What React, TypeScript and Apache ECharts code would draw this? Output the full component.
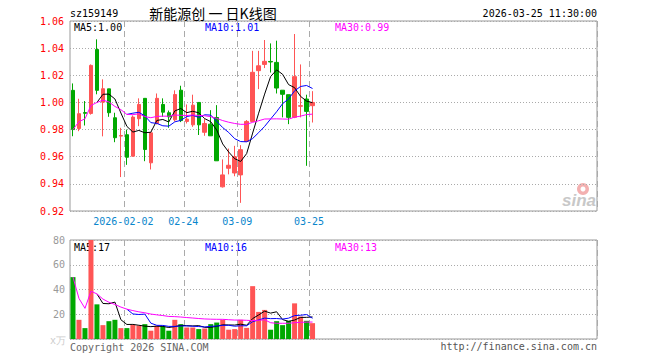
import React, { useEffect, useRef } from 'react';
import * as echarts from 'echarts';

// ---- data ----
const dates = [
  '2026-01-20', '2026-01-21', '2026-01-22', '2026-01-23', '2026-01-26', '2026-01-27', '2026-01-28', '2026-01-29', '2026-01-30',
  '2026-02-02', '2026-02-03', '2026-02-04', '2026-02-05', '2026-02-06', '2026-02-09', '2026-02-10', '2026-02-11', '2026-02-12', '2026-02-13',
  '2026-02-24', '2026-02-25', '2026-02-26', '2026-02-27', '2026-03-02', '2026-03-03', '2026-03-04', '2026-03-05', '2026-03-06',
  '2026-03-09', '2026-03-10', '2026-03-11', '2026-03-12', '2026-03-13', '2026-03-16', '2026-03-17', '2026-03-18', '2026-03-19', '2026-03-20',
  '2026-03-23', '2026-03-24', '2026-03-25',
];
const opens = [
  1.0089, 0.9808, 0.9925, 0.9919, 1.039, 1.0002, 1.01, 0.9887, 0.9752,
  0.9762, 0.9604, 0.988, 1.003, 0.9555, 0.9845, 0.9985, 0.9924, 0.9872, 1.009,
  0.986, 0.9835, 1.0, 0.978, 0.984, 0.9889, 0.9378, 0.9515, 0.948,
  0.9466, 0.9712, 0.986, 1.0234, 1.028, 1.0302, 1.0295, 1.009, 1.0057, 0.989,
  0.9972, 1.0025, 0.9976,
];
const closes = [
  0.98, 0.9917, 0.992, 1.0273, 1.0089, 1.0101, 0.9924, 0.974, 0.9756,
  0.9596, 0.9892, 0.9985, 0.9653, 0.9776, 1.003, 0.9928, 0.9894, 1.0058, 0.9866,
  0.9877, 0.998, 0.9835, 0.9845, 0.9754, 0.957, 0.9466, 0.9537, 0.96,
  0.9652, 0.986, 1.0222, 1.027, 1.0303, 1.0298, 1.0106, 1.006, 0.989, 1.019,
  0.9976, 0.9934, 1.0,
];
const lows = [
  0.9751, 0.9788, 0.983, 0.991, 1.006, 0.975, 0.9894, 0.9707, 0.945,
  0.954, 0.96, 0.9825, 0.9567, 0.9506, 0.9838, 0.9894, 0.9813, 0.986, 0.9855,
  0.9845, 0.982, 0.976, 0.9754, 0.9754, 0.957, 0.9373, 0.947, 0.9456,
  0.926, 0.9712, 0.986, 1.0098, 1.0253, 1.022, 1.0066, 0.989, 0.984, 0.9884,
  0.989, 0.9533, 0.9852,
];
const highs = [
  1.014, 1.0027, 1.001, 1.028, 1.0465, 1.017, 1.01, 0.9924, 0.9813,
  0.98, 0.9904, 1.003, 1.003, 0.978, 1.0066, 1.003, 0.994, 1.0089, 1.0123,
  0.9985, 1.0057, 1.0, 0.9877, 0.9943, 0.998, 0.958, 0.966, 0.968,
  0.9685, 0.987, 1.038, 1.038, 1.046, 1.0435, 1.0455, 1.009, 1.0057, 1.0504,
  1.028, 1.0057, 1.0083,
];
const volumes = [
  50, 15.5, 8.8, 80, 28, 11.2, 14.4, 15.5, 8.8,
  8.8, 11.5, 10.9, 12, 6.7, 10.7, 10.4, 6.7, 15.5, 12,
  9.3, 9.3, 8, 8.5, 12, 13.3, 15.5, 7.5, 8,
  15.5, 9, 42.7, 21.9, 23.5, 7.5, 14.4, 11.2, 14.7, 28.8,
  18.1, 14.7, 12.8,
];
const tickDates = ['2026-02-02', '2026-02-24', '2026-03-09', '2026-03-25'];
const tickLabels = ['2026-02-02', '02-24', '03-09', '03-25'];
const headerCode = 'sz159149';
const headerTitle = '新能源创 一 日K线图';
const headerTime = '2026-03-25 11:30:00';
const priceMaTexts = ['MA5:1.00', 'MA10:1.01', 'MA30:0.99'];
const volMaTexts = ['MA5:17', 'MA10:16', 'MA30:13'];

const TOTAL_SLOTS = 88;
const RED = '#ff5555';
const GREEN = '#00a800';
const MONO = 'DejaVu Sans Mono';

// moving average as the source chart draws it (MA30 grows from the first day)
function movingAvg(vals: number[], n: number, expanding: boolean) {
  return vals.map((_, i) => {
    if (i < n - 1 && !expanding) return '-';
    const start = Math.max(0, i - n + 1);
    const seg = vals.slice(start, i + 1);
    return seg.reduce((a, b) => a + b, 0) / seg.length;
  });
}

export default function App() {
  const ref = useRef<HTMLDivElement>(null);
  useEffect(() => {
    document.body.style.margin = '0';
    if (!ref.current) return;
    const chart = echarts.init(ref.current, undefined, { renderer: 'svg' });

    const categories = dates.concat(
      Array.from({ length: TOTAL_SLOTS - dates.length }, (_, k) => '_pad' + k)
    );
    const isTick = (_i: number, v: string) => tickDates.indexOf(v) >= 0;

    const signs = closes.map((c, i) => {
      if (c > opens[i]) return 1;
      if (c < opens[i]) return -1;
      return i > 0 && c >= closes[i - 1] ? 1 : -1;
    });

    const candleData = dates.map((_, i) => [opens[i], closes[i], lows[i], highs[i]]);
    const volData = volumes.map((v, i) => ({
      value: v,
      itemStyle: { color: signs[i] > 0 ? RED : GREEN },
    }));

    const maLine = (name: string, data: any[], color: string, xi: number, yi: number) => ({
      name,
      type: 'line',
      xAxisIndex: xi,
      yAxisIndex: yi,
      data,
      symbol: 'none',
      smooth: false,
      lineStyle: { color, width: 1 },
      z: 3,
    });

    const dashed = { color: '#aaaaaa', width: 1, type: [6, 4] };
    const dotted = { color: '#aaaaaa', width: 1, type: [1, 2] };

    const txt = (text: string, x: number, y: number, fill: string, align = 'left', font = `10px ${MONO}`) => ({
      type: 'text',
      x,
      y,
      z: 0,
      style: {
        text,
        fill,
        font,
        align,
        verticalAlign: 'middle',
        textAlign: align,
        textVerticalAlign: 'middle',
      },
    });

    chart.setOption({
      animation: false,
      backgroundColor: '#ffffff',
      grid: [
        { left: 70, top: 21, width: 527, height: 190, show: true, borderColor: '#999999', borderWidth: 1 },
        { left: 70, top: 240, width: 527, height: 99, show: true, borderColor: '#999999', borderWidth: 1 },
      ],
      xAxis: [
        {
          type: 'category',
          gridIndex: 0,
          data: categories,
          boundaryGap: true,
          axisLine: { show: false },
          axisTick: { show: false },
          axisLabel: {
            interval: isTick,
            formatter: (v: string) => {
              const k = tickDates.indexOf(v);
              return k >= 0 ? tickLabels[k] : '';
            },
            color: '#0a86cc',
            fontFamily: MONO,
            fontSize: 10,
            margin: 5,
            padding: [0, 7, 0, 0],
            hideOverlap: false,
          },
          splitLine: { show: true, interval: isTick, lineStyle: dashed },
        },
        {
          type: 'category',
          gridIndex: 1,
          data: categories,
          boundaryGap: true,
          axisLine: { show: false },
          axisTick: { show: false },
          axisLabel: { show: false },
          splitLine: { show: true, interval: isTick, lineStyle: dashed },
        },
      ],
      yAxis: [
        {
          type: 'value',
          gridIndex: 0,
          min: 0.92,
          max: 1.06,
          interval: 0.02,
          axisLine: { show: false },
          axisTick: { show: false },
          axisLabel: {
            formatter: (v: number) => v.toFixed(2),
            color: '#ff0000',
            fontFamily: MONO,
            fontSize: 10,
            margin: 6,
          },
          splitLine: { show: true, lineStyle: dotted },
        },
        {
          type: 'value',
          gridIndex: 1,
          min: 0,
          max: 80,
          interval: 20,
          axisLine: { show: false },
          axisTick: { show: false },
          axisLabel: {
            formatter: (v: number) => (v === 0 ? '' : String(v)),
            color: '#999999',
            fontFamily: MONO,
            fontSize: 10,
            margin: 5,
          },
          splitLine: { show: true, lineStyle: dotted },
        },
      ],
      series: [
        {
          name: 'K',
          type: 'candlestick',
          xAxisIndex: 0,
          yAxisIndex: 0,
          data: candleData,
          barWidth: 4,
          itemStyle: {
            color: RED,
            color0: GREEN,
            borderColor: RED,
            borderColor0: GREEN,
            borderWidth: 1,
          },
          z: 2,
        },
        maLine('MA5', movingAvg(closes, 5, false), '#000000', 0, 0),
        maLine('MA10', movingAvg(closes, 10, false), '#0000ff', 0, 0),
        maLine('MA30', movingAvg(closes, 30, true), '#ff00ff', 0, 0),
        {
          name: 'VOL',
          type: 'bar',
          xAxisIndex: 1,
          yAxisIndex: 1,
          data: volData,
          barWidth: 5,
          z: 2,
        },
        maLine('VMA5', movingAvg(volumes, 5, false), '#000000', 1, 1),
        maLine('VMA10', movingAvg(volumes, 10, false), '#0000ff', 1, 1),
        maLine('VMA30', movingAvg(volumes, 30, true), '#ff00ff', 1, 1),
      ],
      graphic: {
        elements: [
          txt(headerCode, 70, 13, '#000000'),
          txt(headerTitle, 213, 13, '#000000', 'center', '14px "Noto Sans CJK SC"'),
          txt(headerTime, 597, 13, '#000000', 'right'),
          txt(priceMaTexts[0], 74, 27, '#000000'),
          txt(priceMaTexts[1], 205, 27, '#0000ff'),
          txt(priceMaTexts[2], 335, 27, '#ff00ff'),
          txt(volMaTexts[0], 74, 247, '#000000'),
          txt(volMaTexts[1], 205, 247, '#0000ff'),
          txt(volMaTexts[2], 335, 247, '#ff00ff'),
          txt('x万', 50, 340, '#cccccc'),
          txt('Copyright 2026 SINA.COM', 70, 347, '#666666'),
          txt('http://finance.sina.com.cn', 597, 346, '#555555', 'right'),
          {
            type: 'ring',
            z: 0,
            shape: { cx: 583, cy: 189, r: 6, r0: 2.5 },
            style: { fill: '#f3b0b0' },
          },
          txt('sina', 596, 200, '#c8c8c8', 'right', 'italic bold 17px "Liberation Sans"'),
        ],
      },
    });
    return () => chart.dispose();
  }, []);
  return <div ref={ref} style={{ width: 660, height: 360 }} />;
}
